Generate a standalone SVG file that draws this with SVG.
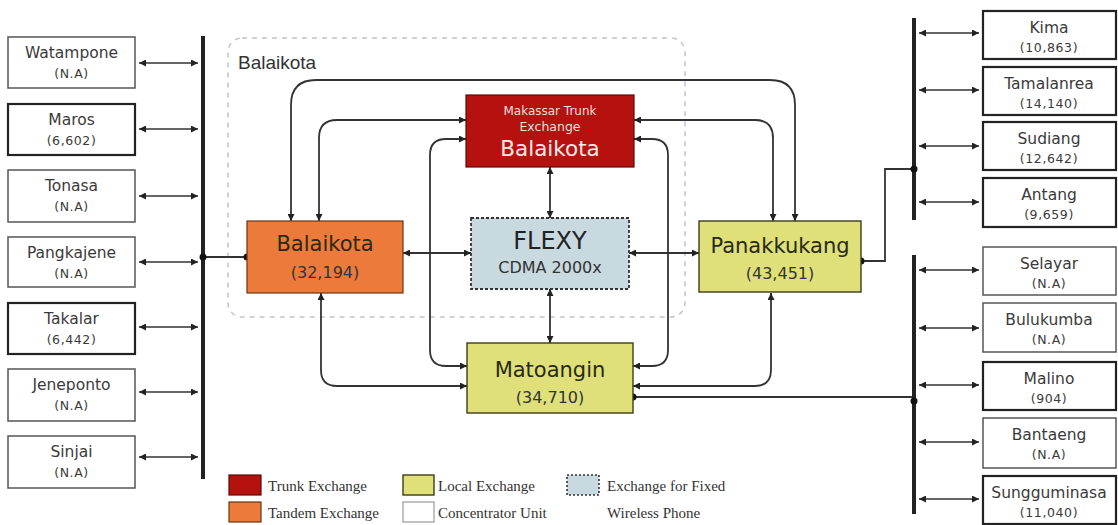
<svg xmlns="http://www.w3.org/2000/svg" width="1118" height="525" viewBox="0 0 1118 525">
<defs>
<marker id="ah" viewBox="0 0 10 10" refX="10" refY="5" markerWidth="9" markerHeight="7" markerUnits="userSpaceOnUse" orient="auto-start-reverse">
<path d="M0,0 L10,5 L0,10 z" fill="#222"/>
</marker>
<style>
.cu{fill:#fff;stroke:#555;stroke-width:1.5}
.cub{fill:#fff;stroke:#222;stroke-width:2.2}
.t1{font-family:"DejaVu Sans",Verdana,sans-serif;font-size:15.5px;fill:#3a3a3a;text-anchor:middle}
.t2{font-family:"DejaVu Sans",Verdana,sans-serif;font-size:12.5px;letter-spacing:0.6px;fill:#3a3a3a;text-anchor:middle}
.c{fill:none;stroke:#333;stroke-width:1.8}
.a{fill:none;stroke:#333;stroke-width:1.3;marker-start:url(#ah);marker-end:url(#ah)}
.ab{fill:none;stroke:#333;stroke-width:1.8;marker-start:url(#ah);marker-end:url(#ah)}
.bus{stroke:#222;stroke-width:4}
.big{font-family:"DejaVu Sans",Verdana,sans-serif;font-size:21px;text-anchor:middle;fill:#2a2a10}
.mid{font-family:"DejaVu Sans",Verdana,sans-serif;font-size:16px;text-anchor:middle;fill:#333}
.leg{font-family:"Liberation Serif","Times New Roman",serif;font-size:15px;fill:#333}
</style>
</defs>
<rect width="1118" height="525" fill="#fff"/>

<!-- region -->
<g id="region">
<rect x="228" y="38" width="457" height="279" rx="14" fill="none" stroke="#c0c4cc" stroke-width="1.5" stroke-dasharray="5,5"/>
<text x="238" y="69" font-family="Liberation Sans,Arial,sans-serif" font-size="19" fill="#333">Balaikota</text>
</g>

<!-- buses -->
<g id="buses">
<line class="bus" x1="203" y1="36" x2="203" y2="479"/>
<line class="bus" x1="914" y1="18" x2="914" y2="220"/>
<line class="bus" x1="914" y1="255" x2="914" y2="514"/>
</g>

<!-- connectors -->
<g id="connectors">
<line class="a" x1="139" y1="63" x2="198" y2="63"/>
<line class="a" x1="139" y1="129" x2="198" y2="129"/>
<line class="a" x1="139" y1="196" x2="198" y2="196"/>
<line class="a" x1="139" y1="262" x2="198" y2="262"/>
<line class="a" x1="139" y1="327" x2="198" y2="327"/>
<line class="a" x1="139" y1="392" x2="198" y2="392"/>
<line class="a" x1="139" y1="457" x2="198" y2="457"/>
<line class="a" x1="919" y1="33" x2="979" y2="33"/>
<line class="a" x1="919" y1="90" x2="979" y2="90"/>
<line class="a" x1="919" y1="146" x2="979" y2="146"/>
<line class="a" x1="919" y1="202" x2="979" y2="202"/>
<line class="a" x1="919" y1="270" x2="979" y2="270"/>
<line class="a" x1="919" y1="328" x2="979" y2="328"/>
<line class="a" x1="919" y1="385" x2="979" y2="385"/>
<line class="a" x1="919" y1="442" x2="979" y2="442"/>
<line class="a" x1="919" y1="499" x2="979" y2="499"/>

<line class="c" x1="203" y1="257" x2="247" y2="257"/>
<circle cx="203" cy="257" r="3.5" fill="#111"/>
<circle cx="247" cy="257" r="3.5" fill="#111"/>
<polyline class="c" points="861,261 885,261 885,169 914,169"/>
<circle cx="861" cy="261" r="3.5" fill="#111"/>
<circle cx="914" cy="169" r="3.5" fill="#111"/>
<polyline class="c" points="633,397 912,397"/>
<circle cx="633" cy="397" r="3.5" fill="#111"/>
<circle cx="914" cy="401" r="3.5" fill="#111"/>

<path class="ab" d="M291,221 V105 Q291,80 316,80 H770 Q795,80 795,105 V221"/>
<path class="ab" d="M319,221 V138 Q319,120 337,120 H466"/>
<path class="ab" d="M773,221 V138 Q773,120 755,120 H634"/>
<path class="ab" d="M466,139 H446 Q430,139 430,155 V350 Q430,366 446,366 H467"/>
<path class="ab" d="M634,139 H652 Q668,139 668,155 V350 Q668,366 652,366 H633"/>
<line class="ab" x1="550" y1="167" x2="550" y2="218"/>
<line class="ab" x1="550" y1="289" x2="550" y2="343"/>
<line class="ab" x1="403" y1="253" x2="471" y2="253"/>
<line class="ab" x1="629" y1="253" x2="699" y2="253"/>
<path class="ab" d="M321,293 V370 Q321,386 337,386 H467"/>
<path class="ab" d="M771,293 V370 Q771,386 755,386 H633"/>
</g>

<!-- left concentrators -->
<g id="watampone"><rect class="cu" x="8" y="37" width="127" height="51"/><text class="t1" x="71.5" y="58">Watampone</text><text class="t2" x="71.5" y="78">(N.A)</text></g>
<g id="maros"><rect class="cub" x="8" y="104" width="127" height="51"/><text class="t1" x="71.5" y="125">Maros</text><text class="t2" x="71.5" y="145">(6,602)</text></g>
<g id="tonasa"><rect class="cu" x="8" y="170" width="127" height="52"/><text class="t1" x="71.5" y="191">Tonasa</text><text class="t2" x="71.5" y="211">(N.A)</text></g>
<g id="pangkajene"><rect class="cu" x="8" y="237" width="127" height="50"/><text class="t1" x="71.5" y="258">Pangkajene</text><text class="t2" x="71.5" y="278">(N.A)</text></g>
<g id="takalar"><rect class="cub" x="8" y="303" width="127" height="51"/><text class="t1" x="71.5" y="324">Takalar</text><text class="t2" x="71.5" y="344">(6,442)</text></g>
<g id="jeneponto"><rect class="cu" x="8" y="369" width="127" height="52"/><text class="t1" x="71.5" y="390">Jeneponto</text><text class="t2" x="71.5" y="410">(N.A)</text></g>
<g id="sinjai"><rect class="cu" x="8" y="436" width="127" height="52"/><text class="t1" x="71.5" y="457">Sinjai</text><text class="t2" x="71.5" y="477">(N.A)</text></g>

<!-- right concentrators -->
<g id="kima"><rect class="cub" x="983" y="11" width="133" height="48"/><text class="t1" x="1049" y="33">Kima</text><text class="t2" x="1049" y="52">(10,863)</text></g>
<g id="tamalanrea"><rect class="cub" x="983" y="67" width="133" height="48"/><text class="t1" x="1049" y="89">Tamalanrea</text><text class="t2" x="1049" y="108">(14,140)</text></g>
<g id="sudiang"><rect class="cub" x="983" y="122" width="133" height="48"/><text class="t1" x="1049" y="144">Sudiang</text><text class="t2" x="1049" y="163">(12,642)</text></g>
<g id="antang"><rect class="cub" x="983" y="178" width="133" height="49"/><text class="t1" x="1049" y="200">Antang</text><text class="t2" x="1049" y="219">(9,659)</text></g>
<g id="selayar"><rect class="cu" x="983" y="247" width="133" height="48"/><text class="t1" x="1049" y="269">Selayar</text><text class="t2" x="1049" y="288">(N.A)</text></g>
<g id="bulukumba"><rect class="cu" x="983" y="303" width="133" height="49"/><text class="t1" x="1049" y="325">Bulukumba</text><text class="t2" x="1049" y="344">(N.A)</text></g>
<g id="malino"><rect class="cub" x="983" y="362" width="133" height="48"/><text class="t1" x="1049" y="384">Malino</text><text class="t2" x="1049" y="403">(904)</text></g>
<g id="bantaeng"><rect class="cu" x="983" y="418" width="133" height="50"/><text class="t1" x="1049" y="440">Bantaeng</text><text class="t2" x="1049" y="459">(N.A)</text></g>
<g id="sungguminasa"><rect class="cub" x="983" y="476" width="133" height="48"/><text class="t1" x="1049" y="498">Sungguminasa</text><text class="t2" x="1049" y="517">(11,040)</text></g>

<!-- core exchanges -->
<g id="trunk">
<rect x="466" y="95" width="168" height="72" fill="#b5120f" stroke="#5a0a08" stroke-width="1.2"/>
<text x="550" y="115" font-family="DejaVu Sans,Verdana,sans-serif" font-size="12" fill="#f4dede" text-anchor="middle">Makassar Trunk</text>
<text x="550" y="131" font-family="DejaVu Sans,Verdana,sans-serif" font-size="12.5" fill="#f4dede" text-anchor="middle">Exchange</text>
<text x="550" y="156" font-family="DejaVu Sans,Verdana,sans-serif" font-size="21.5" fill="#fbeaea" text-anchor="middle">Balaikota</text>
</g>
<g id="balaikota">
<rect x="247" y="221" width="156" height="72" fill="#ec7a3b" stroke="#6b3415" stroke-width="1.2"/>
<text class="big" x="325" y="251" fill="#3a1a08">Balaikota</text>
<text class="mid" x="325" y="278">(32,194)</text>
</g>
<g id="flexy">
<rect x="471" y="218" width="158" height="71" fill="#c8d9e0" stroke="#333" stroke-width="1.8" stroke-dasharray="3,2"/>
<text x="550" y="249" font-family="DejaVu Sans,Verdana,sans-serif" font-size="24" fill="#222" text-anchor="middle">FLEXY</text>
<text x="550" y="273" font-family="DejaVu Sans,Verdana,sans-serif" font-size="16" fill="#333" text-anchor="middle">CDMA 2000x</text>
</g>
<g id="panakkukang">
<rect x="699" y="221" width="162" height="71" fill="#dfe07a" stroke="#3c3c18" stroke-width="1.4"/>
<text class="big" x="780" y="253" font-size="20">Panakkukang</text>
<text class="mid" x="780" y="279">(43,451)</text>
</g>
<g id="matoangin">
<rect x="467" y="343" width="166" height="70" fill="#dfe07a" stroke="#3c3c18" stroke-width="1.4"/>
<text class="big" x="550" y="377">Matoangin</text>
<text class="mid" x="550" y="403">(34,710)</text>
</g>

<!-- legend -->
<g id="legend">
<rect x="229" y="475" width="32" height="20" fill="#b5120f" stroke="#5a0a08" stroke-width="1.2"/>
<text class="leg" x="268" y="491">Trunk Exchange</text>
<rect x="229" y="502" width="32" height="20" fill="#ec7a3b" stroke="#6b3415" stroke-width="1.2"/>
<text class="leg" x="268" y="518">Tandem Exchange</text>
<rect x="403" y="475" width="31" height="20" fill="#dfe07a" stroke="#3c3c18" stroke-width="1.4"/>
<text class="leg" x="438" y="491">Local Exchange</text>
<rect x="403" y="502" width="31" height="20" fill="#fff" stroke="#999" stroke-width="1.2"/>
<text class="leg" x="438" y="518">Concentrator Unit</text>
<rect x="567" y="475" width="32" height="20" fill="#c8d9e0" stroke="#333" stroke-width="1.6" stroke-dasharray="2,2"/>
<text class="leg" x="607" y="491">Exchange for Fixed</text>
<text class="leg" x="607" y="518">Wireless Phone</text>
</g>
</svg>
